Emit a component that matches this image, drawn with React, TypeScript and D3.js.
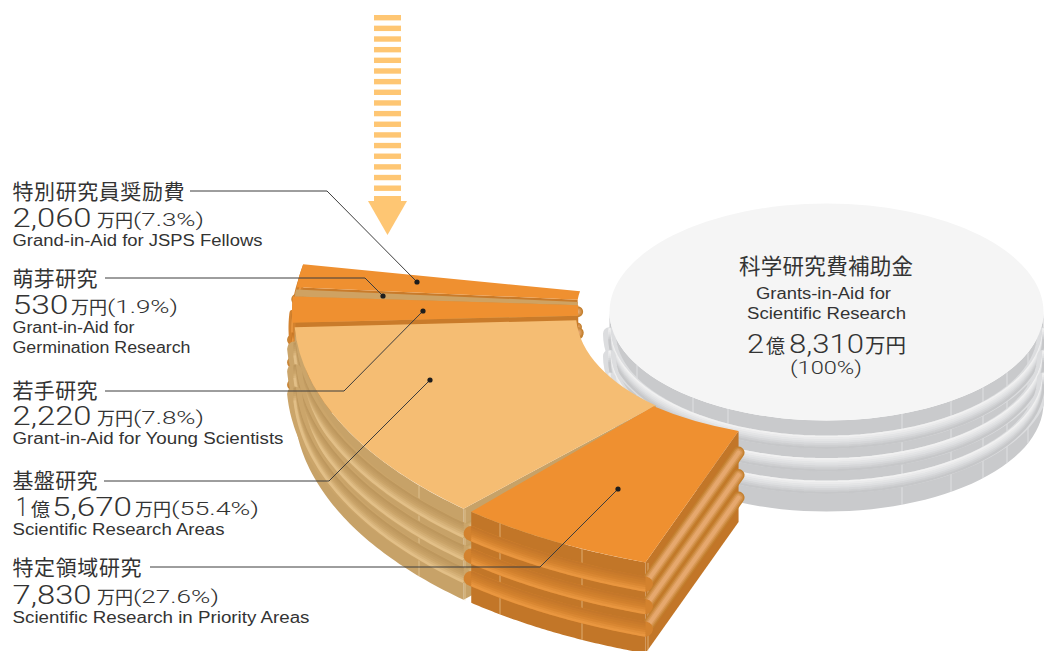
import React from 'react';
import * as d3 from 'd3';

// budget breakdown, 万円
const namesJa = ['特別研究員奨励費', '萌芽研究', '若手研究', '基盤研究', '特定領域研究'];
const amounts = [2060, 530, 2220, 15670, 7830];
const amountLabels = ['2,060', '530', '2,220', '5,670', '7,830'];
const percentLabels = ['(7.3%)', '(1.9%)', '(7.8%)', '(55.4%)', '(27.6%)'];
const namesEn = [
  ['Grand-in-Aid for JSPS Fellows'],
  ['Grant-in-Aid for', 'Germination Research'],
  ['Grant-in-Aid for Young Scientists'],
  ['Scientific Research Areas'],
  ['Scientific Research in Priority Areas'],
];

const W = 1044;
const H = 651;
const tilt = 0.5;
const wallH = 91;
const ridgeOffsets = [21.7, 44.2, 66.7];
const jaFont = '"Noto Sans CJK JP", sans-serif';
const latinFont = '"Liberation Sans", Arial, sans-serif';
const numFont = 'Roboto, "Liberation Sans", sans-serif';
const ink = '#333333';

const rad = (d: number) => (d * Math.PI) / 180;

const orange = { top: '#ef9030', wall: '#c97b2a', ramp: ['#c4772a', '#d3822e', '#e9963f'], side: ['#c4802f', '#e6a86e'] };
const tan = { top: '#f5bd73', wall: '#c7a268', ramp: ['#bd975d', '#cba56a', '#e2bf87'], side: ['#c4a063', '#d8b47c'] };

// each slice has been pulled apart a little, so each has its own apex.
// trim0/trim1 close the sweep in by a fraction of a degree at either side
const sliceLayout = [
  { x: 742, y: 307, inner: 165, outer: 447, trim0: 0, trim1: 0, ridgeW: 7, capW: 11, shift: -9.7, ...orange },
  { x: 827, y: 313, inner: 250, outer: 533, trim0: 0, trim1: 0, ridgeW: 7, capW: 9, shift: 0, ...orange, top: '#cfa262', wall: '#c4a063' },
  { x: 765, y: 311, inner: 187, outer: 473, trim0: 0, trim1: 0, ridgeW: 7, capW: 11, shift: -4.7, ...orange },
  { x: 826, y: 314, inner: 250, outer: 532, trim0: 0, trim1: 0.9, ridgeW: 15, capW: 11, shift: 0, ...tan },
  { x: 827, y: 306, inner: 265, outer: 544, trim0: 1.2, trim1: 0, ridgeW: 15, capW: 12, shift: 0, ...orange, wall: '#c27628' },
];
const seamXs = [[], [], [], [419, 465], [500, 582, 648]];

const disc = { x: 826.5, y: 312, r: 217 };
const discRamp = ['#f1f1f1', '#dcdddf', '#c6c7c9'];
const discSeamXs = [637, 693, 728, 902, 951, 983, 1007, 1028];

const pie = d3
  .pie<number>()
  .sort(null)
  .startAngle(rad(281))
  .endAngle(rad(199.5));
const slices = pie(amounts);

const arcGen = d3.arc<any>();
const line = d3.line();

type Apex = { x: number; y: number };
const pt = (c: Apex, r: number, a: number, dy = 0): [number, number] => [
  c.x + r * Math.sin(a),
  c.y - r * Math.cos(a) * tilt + dy,
];
const arcPts = (c: Apex, r: number, a0: number, a1: number, dy = 0) =>
  d3.range(0, 61).map((i) => pt(c, r, a0 + ((a1 - a0) * i) / 60, dy));

// soft rounded moulding: round silhouette, then thin bands shaded top to bottom
const Ridge = ({ pts, ramp, w = 13 }: any) => {
  const d = line(pts) as string;
  const color = d3.scaleLinear<string>().domain([0, 0.55, 1]).range(ramp);
  const n = 7;
  return (
    <g fill="none">
      <path d={d} stroke={ramp[1]} strokeWidth={w} strokeLinecap="round" />
      {d3.range(n).map((k) => (
        <path
          key={k}
          d={d}
          stroke={color(k / (n - 1))}
          strokeWidth={w / n + 0.4}
          transform={`translate(0 ${(k + 0.5) * (w / n) - w / 2})`}
        />
      ))}
    </g>
  );
};

// side of the moulding, lit along its centre
const SideRidge = ({ pts, side, w }: any) => {
  const d = line(pts) as string;
  const color = d3.scaleLinear<string>().domain([0, 1]).range(side);
  return (
    <g fill="none" strokeLinecap="round">
      {d3.range(4).map((k) => (
        <path key={k} d={d} stroke={color(k / 3)} strokeWidth={w * (1 - k / 4.5)} />
      ))}
    </g>
  );
};

const Slice = ({ s, i }: any) => {
  const c = sliceLayout[i];
  const a0 = s.startAngle - rad(c.trim0);
  const a1 = s.endAngle + rad(c.trim1);
  const outerTop = arcPts(c, c.outer, a0, a1);
  const outerBottom = arcPts(c, c.outer, a1, a0, wallH);
  const sideWall = [pt(c, c.inner, a1), pt(c, c.outer, a1), pt(c, c.outer, a1, wallH), pt(c, c.inner, a1, wallH)];
  const topPath = arcGen({ innerRadius: c.inner, outerRadius: c.outer, startAngle: a0, endAngle: a1 }) as string;
  const seamY = (x: number) => c.y + Math.sqrt(c.outer * c.outer - (x - c.x) * (x - c.x)) * tilt;
  return (
    <g>
      <path d={line(sideWall) + 'Z'} fill={c.wall} />
      <path d={line([...outerTop, ...outerBottom]) + 'Z'} fill={c.wall} />
      {seamXs[i].map((x) => (
        <line key={x} x1={x} x2={x} y1={seamY(x)} y2={seamY(x) + wallH} stroke="#f3d9ae" strokeOpacity={0.7} strokeWidth={0.8} />
      ))}
      {ridgeOffsets.map((dy) => (
        <g key={dy}>
          <SideRidge pts={[pt(c, c.inner, a1, dy + c.shift), pt(c, c.outer, a1, dy + c.shift)]} side={c.side} w={c.capW} />
          <Ridge pts={arcPts(c, c.outer, a0, a1, dy + c.shift)} ramp={c.ramp} w={c.ridgeW} />
        </g>
      ))}
      <path d={topPath} transform={`translate(${c.x} ${c.y}) scale(1 ${tilt})`} fill={c.top} />
    </g>
  );
};

const Disc = () => {
  const front0 = rad(270);
  const front1 = rad(90);
  const rim = arcPts(disc, disc.r, front0, front1);
  const rimLow = arcPts(disc, disc.r, front1, front0, wallH);
  const seamY = (x: number) => disc.y + Math.sqrt(disc.r * disc.r - (x - disc.x) * (x - disc.x)) * tilt;
  const topPath = arcGen({ innerRadius: 0, outerRadius: disc.r, startAngle: 0, endAngle: 2 * Math.PI }) as string;
  return (
    <g>
      <path d={line([...rim, ...rimLow]) + 'Z'} fill="#c9cacc" />
      {discSeamXs.map((x) => (
        <line key={x} x1={x} x2={x} y1={seamY(x)} y2={seamY(x) + wallH} stroke="#e6e6e8" strokeWidth={0.8} />
      ))}
      {ridgeOffsets.map((dy) => (
        <Ridge key={dy} pts={arcPts(disc, disc.r, front0, front1, dy)} ramp={discRamp} w={13} />
      ))}
      <path d={topPath} transform={`translate(${disc.x} ${disc.y}) scale(1 ${tilt})`} fill="#f5f5f5" />
    </g>
  );
};

const Arrow = () => {
  const stripes = d3.range(0, 17);
  const y = d3.scaleLinear().domain([0, 16]).range([15, 185.5]);
  return (
    <g fill="#fec673">
      {stripes.map((i) => (
        <rect key={i} x={374} y={y(i)} width={27} height={5.4} />
      ))}
      <rect x={374} y={196} width={27} height={6} />
      <path d="M368 201H407L387.5 235Z" />
    </g>
  );
};

const Txt = ({ x, y, size, w, font = latinFont, fit = 'spacingAndGlyphs', weight = 400, children }: any) => (
  <text x={x} y={y} fontSize={size} fontFamily={font} fontWeight={weight} fill={ink} textLength={w} lengthAdjust={fit}>
    {children}
  </text>
);

// label block layout: title baseline, number row, english rows, leader
const rows = [
  { title: 199, titleW: 172, num: 227, en: [246], enW: [250], numX: 12.5, numW: 79, unitX: 97, pctW: 71, lead: [[190, 191], [327, 191], [417, 282]] },
  { title: 286, titleW: 85, num: 314, en: [333, 353], enW: [122, 178], numX: 12.5, numW: 56, unitX: 71, pctW: 71, lead: [[105, 278], [365, 278], [383, 296]] },
  { title: 398, titleW: 85, num: 425, en: [444], enW: [271], numX: 12.5, numW: 79, unitX: 97, pctW: 71, lead: [[105, 391], [344, 391], [423, 311]] },
  { title: 488, titleW: 85, num: 516, en: [535], enW: [212], numX: 52, numW: 80, unitX: 135, pctW: 88, lead: [[104, 481], [329, 481], [430, 380]] },
  { title: 575, titleW: 129, num: 604, en: [623], enW: [297], numX: 12.5, numW: 79, unitX: 97, pctW: 86, lead: [[150, 567], [540, 567], [618, 489]] },
];

const Labels = () => (
  <g>
    {rows.map((r, i) => (
      <g key={i}>
        <path d={line(r.lead as [number, number][]) as string} fill="none" stroke="#3c3c3c" strokeWidth={1} />
        <circle cx={r.lead[2][0]} cy={r.lead[2][1]} r={2.6} fill="#1d1d1d" />
        <Txt x={12.5} y={r.title} size={21} w={r.titleW} font={jaFont} fit="spacing">{namesJa[i]}</Txt>
        {i === 3 && <Txt x={16} y={r.num} size={26} w={12} font={numFont} weight={300}>1</Txt>}
        {i === 3 && <Txt x={31} y={r.num} size={18} w={19} font={jaFont}>億</Txt>}
        <Txt x={r.numX} y={r.num} size={26} w={r.numW} font={numFont} weight={300}>{amountLabels[i]}</Txt>
        <Txt x={r.unitX} y={r.num} size={18} w={36} font={jaFont}>万円</Txt>
        <Txt x={r.unitX + 36} y={r.num - 1} size={19} w={r.pctW} font={numFont} weight={300}>{percentLabels[i]}</Txt>
        {namesEn[i].map((t, j) => (
          <Txt key={t} x={12.5} y={r.en[j]} size={16} w={r.enW[j]}>{t}</Txt>
        ))}
      </g>
    ))}
  </g>
);

const DiscText = () => (
  <g>
    <Txt x={739} y={274} size={21.5} w={174} font={jaFont} fit="spacing">科学研究費補助金</Txt>
    <Txt x={756} y={299} size={16} w={135}>Grants-in-Aid for</Txt>
    <Txt x={747} y={319} size={16} w={159}>Scientific Research</Txt>
    <Txt x={747} y={353} size={26} w={17} font={numFont} weight={300}>2</Txt>
    <Txt x={766} y={353} size={19} w={19} font={jaFont}>億</Txt>
    <Txt x={789} y={353} size={26} w={75} font={numFont} weight={300}>8,310</Txt>
    <Txt x={865} y={353} size={20} w={41} font={jaFont}>万円</Txt>
    <Txt x={790} y={374} size={19} w={72} font={numFont} weight={300}>(100%)</Txt>
  </g>
);

export default function App() {
  return (
    <svg
      width={W}
      height={H}
      viewBox={`0 0 ${W} ${H}`}
      style={{ position: 'absolute', left: 0, top: 0, display: 'block', background: '#fff' }}
    >
      <Arrow />
      <Disc />
      {slices.map((s, i) => (
        <Slice key={i} s={s} i={i} />
      ))}
      <Labels />
      <DiscText />
    </svg>
  );
}
